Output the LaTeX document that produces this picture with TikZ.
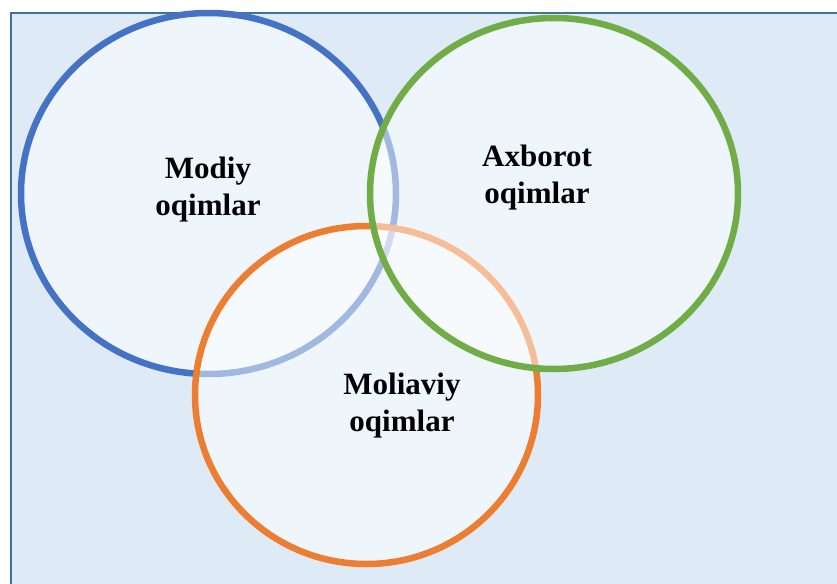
\documentclass[tikz,border=0pt]{standalone}
\usepackage{fontspec}
\setmainfont{Liberation Serif}
\usetikzlibrary{shapes.geometric}
\definecolor{panelfill}{HTML}{DEEBF7}
\definecolor{panelline}{HTML}{41719C}
\definecolor{ringblue}{HTML}{4472C4}
\definecolor{ringorange}{HTML}{ED7D31}
\definecolor{ringgreen}{HTML}{70AD47}
\tikzset{
  ring/.style={ellipse, inner sep=0pt, line width=6.5pt,
    fill=white, fill opacity=0.5, draw opacity=1},
  caption/.style={align=center, text=black,
    font=\fontsize{31}{37}\selectfont\bfseries}
}
\begin{document}
\begin{tikzpicture}[x=1pt,y=-1pt]
  \useasboundingbox (0,0) rectangle (837,583);
  \clip (0,0) rectangle (837,583);
  % background panel
  \draw[panelline, fill=panelfill, line width=2pt] (11,13.5) rectangle (860,610);
  % three overlapping rings, each veiling the ones drawn before it
  \node[ring, draw=ringblue, minimum width=375pt, minimum height=361pt] (modiy) at (208.5,193.5) {};
  \node[ring, draw=ringorange, minimum width=343pt, minimum height=338pt] (moliya) at (366.5,395) {};
  \node[ring, draw=ringgreen, minimum width=368pt, minimum height=351pt] (axborot) at (554,193.5) {};
  % captions
  \node[caption] (tmodiy) at (208,189.5) {Modiy\\oqimlar};
  \node[caption] (taxborot) at (537,178) {Axborot\\oqimlar};
  \node[caption] (tmoliya) at (402,406) {Moliaviy\\oqimlar};
\end{tikzpicture}
\end{document}
